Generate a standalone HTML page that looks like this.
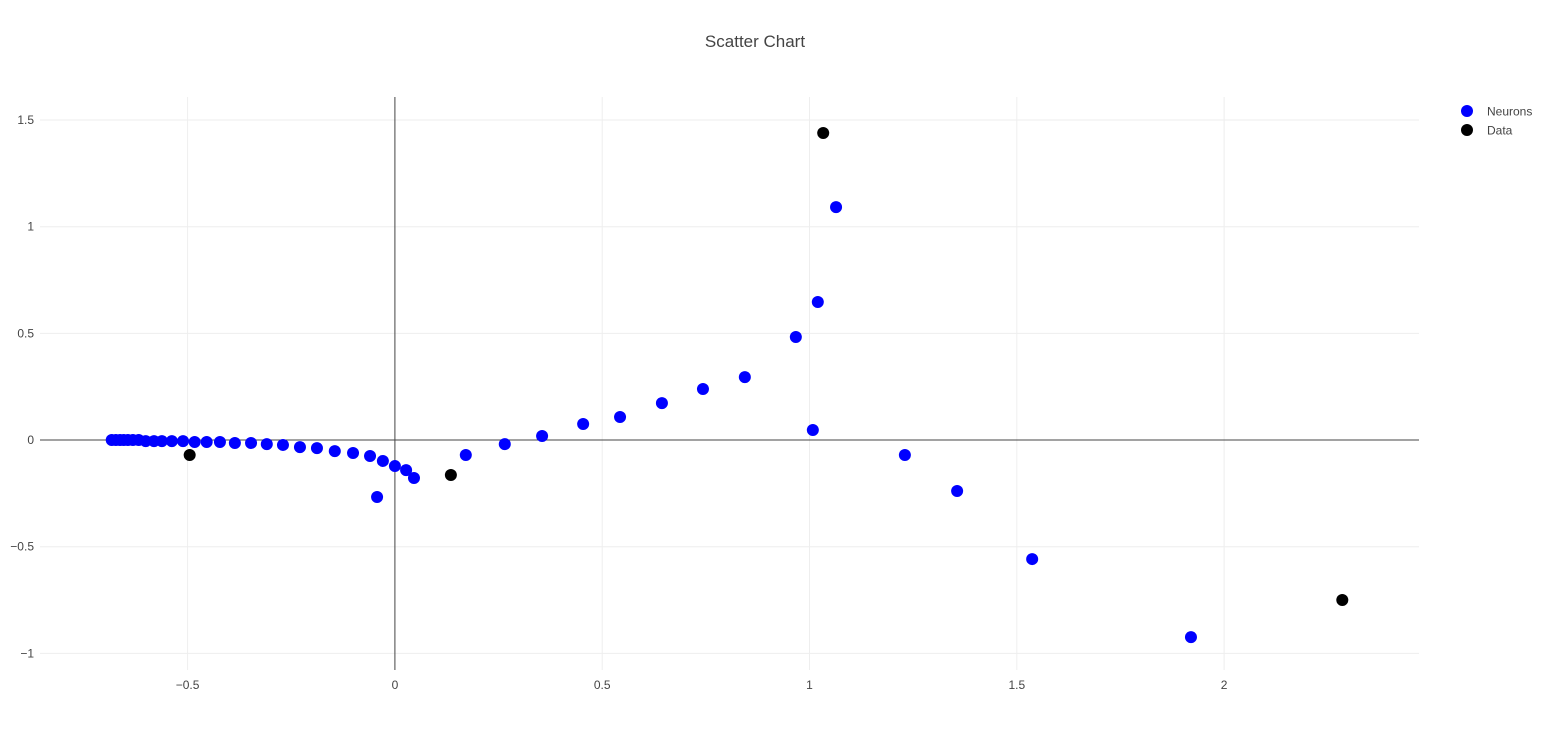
<!DOCTYPE html>
<html><head><meta charset="utf-8"><style>
body{margin:0;background:#fff;font-family:"Liberation Sans",sans-serif;}
svg text{font-family:"Liberation Sans",sans-serif;}
</style></head><body>
<svg id="chart" width="1543" height="732" xmlns="http://www.w3.org/2000/svg">
<text x="755" y="47" text-anchor="middle" font-size="17" fill="#444">Scatter Chart</text>
<g id="grid"></g><g id="axes"></g><g id="marks"></g>
<g>
<g><circle cx="1467" cy="111" r="6" fill="#0000ff"/><text x="1487" y="115.5" font-size="12" fill="#444">Neurons</text></g>
<g><circle cx="1467" cy="130" r="6" fill="#000"/><text x="1487" y="134.5" font-size="12" fill="#444">Data</text></g>
</g>
</svg>
<script>
const neuronX=[-0.683,-0.673,-0.663,-0.654,-0.644,-0.632,-0.618,-0.601,-0.581,-0.562,-0.538,-0.511,-0.483,-0.454,-0.422,-0.386,-0.347,-0.309,-0.270,-0.229,-0.188,-0.145,-0.101,-0.060,-0.029,0,0.027,0.046,-0.043,0.171,0.265,0.355,0.454,0.543,0.644,0.743,0.844,0.967,1.020,1.064,1.008,1.230,1.356,1.537,1.920];
const neuronY=[0,0,0,0,0,0,0,-0.005,-0.005,-0.005,-0.005,-0.005,-0.009,-0.009,-0.009,-0.014,-0.014,-0.019,-0.023,-0.033,-0.038,-0.052,-0.061,-0.075,-0.098,-0.122,-0.141,-0.178,-0.267,-0.070,-0.019,0.019,0.075,0.108,0.173,0.239,0.295,0.483,0.647,1.092,0.047,-0.070,-0.239,-0.558,-0.924];
const dataX=[-0.495,0.135,1.033,2.285];
const dataY=[-0.070,-0.164,1.439,-0.750];
const xTicks=[-0.5,0,0.5,1,1.5,2];
const yTicks=[-1,-0.5,0,0.5,1,1.5];
const L=40,R=1419,T=97,B=670;
const xMin=-0.856,xMax=2.470,yMin=-1.078,yMax=1.608;
const sx=v=>L+(v-xMin)/(xMax-xMin)*(R-L);
const sy=v=>B-(v-yMin)/(yMax-yMin)*(B-T);
const NS="http://www.w3.org/2000/svg";
function mk(t,a,p){const e=document.createElementNS(NS,t);for(const k in a)e.setAttribute(k,a[k]);p.appendChild(e);return e;}
const grid=document.getElementById('grid'),axes=document.getElementById('axes'),marks=document.getElementById('marks');
const fmt=v=>v<0?'\u2212'+Math.abs(v):String(v);
xTicks.forEach(v=>{
 if(v!==0){const l=mk('line',{x1:sx(v),x2:sx(v),y1:T,y2:B,stroke:'#eee','stroke-width':1},grid);
 
 }
 const t=mk('text',{x:sx(v),y:B+19,'text-anchor':'middle','font-size':12,fill:'#444'},axes);t.textContent=fmt(v);
 
 
});
yTicks.forEach(v=>{
 if(v!==0){const l=mk('line',{x1:L,x2:R,y1:sy(v),y2:sy(v),stroke:'#eee','stroke-width':1},grid);
 
 }
 const t=mk('text',{x:L-6,y:sy(v)+4,'text-anchor':'end','font-size':12,fill:'#444'},axes);t.textContent=fmt(v);
 
 
});
const zx=mk('line',{x1:sx(0),x2:sx(0),y1:T,y2:B,stroke:'#444','stroke-width':1},axes);


const zy=mk('line',{x1:L,x2:R,y1:sy(0),y2:sy(0),stroke:'#444','stroke-width':1},axes);


neuronX.forEach((x,i)=>{const c=mk('circle',{cx:sx(x),cy:sy(neuronY[i]),r:6,fill:'#0000ff'},marks);
 
 });
dataX.forEach((x,i)=>{const c=mk('circle',{cx:sx(x),cy:sy(dataY[i]),r:6,fill:'#000'},marks);
 
 });
</script>
</body></html>
